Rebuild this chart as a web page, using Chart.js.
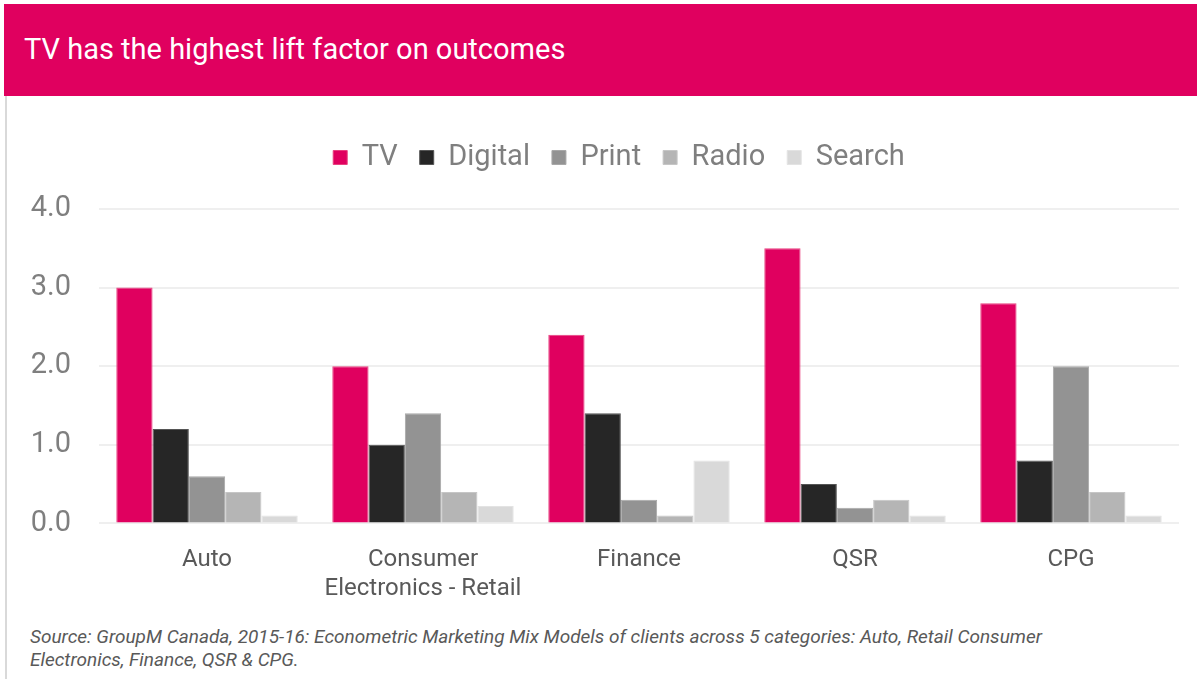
<!DOCTYPE html>
<html>
<head>
<meta charset="UTF-8">
<title>TV lift factor</title>
<script src="https://cdn.jsdelivr.net/npm/chart.js"></script>
<style>
  body { margin: 0; background: #fff; font-family: "Roboto", sans-serif; }
  #header { position: absolute; left: 4px; top: 4px; width: 1193px; height: 92px; background: #E0005F; }
  #header h1 { margin: 0; position: absolute; left: 20px; top: 28px; font-weight: normal; font-size: 29px; color: #fff; }
  #leftline { position: absolute; left: 5px; top: 96px; width: 2px; height: 583px; background: #d9d9d9; }
  #wrap { position: absolute; left: 7px; top: 96px; width: 1190px; height: 521px; }
  #source { position: absolute; left: 30px; top: 625px; font-style: italic; font-size: 19px; color: #595959; line-height: 23px; }
</style>
</head>
<body>
<div id="header"><h1>TV has the highest lift factor on outcomes</h1></div>
<div id="leftline"></div>
<div id="wrap"><canvas id="liftChart"></canvas></div>
<div id="source">Source: GroupM Canada, 2015-16: Econometric Marketing Mix Models of clients across 5 categories: Auto, Retail Consumer<br>Electronics, Finance, QSR &amp; CPG.</div>
<script>
var categories = ['Auto', ['Consumer', 'Electronics - Retail'], 'Finance', 'QSR', 'CPG'];
var tvValues      = [3.0, 2.0, 2.4, 3.5, 2.8];
var digitalValues = [1.2, 1.0, 1.4, 0.5, 0.8];
var printValues   = [0.6, 1.4, 0.3, 0.2, 2.0];
var radioValues   = [0.4, 0.4, 0.1, 0.3, 0.4];
var searchValues  = [0.1, 0.22, 0.8, 0.1, 0.1];

var font = '"Roboto", sans-serif';

function series(label, data, fill, edge) {
    return { label: label, data: data, backgroundColor: fill, borderColor: edge, borderWidth: 1,
             barPercentage: 1.0, categoryPercentage: 0.84 };
}

// extra room under the legend, and nudge it to sit over the plot
var legendTweak = {
    id: 'legendTweak',
    beforeInit: function (chart) {
        var fit = chart.legend.fit;
        chart.legend.fit = function () {
            fit.bind(chart.legend)();
            this.height += 27;
        };
    },
    afterLayout: function (chart) {
        chart.legend.left += 26;
        chart.legend.right += 26;
    }
};

var ctx = document.getElementById('liftChart').getContext('2d');
var liftChart = new Chart(ctx, {
    type: 'bar',
    data: {
        labels: categories,
        datasets: [
            series('TV', tvValues, '#E0005F', '#E8407F'),
            series('Digital', digitalValues, '#262626', '#555555'),
            series('Print', printValues, '#939393', '#A8A8A8'),
            series('Radio', radioValues, '#B5B5B5', '#C6C6C6'),
            series('Search', searchValues, '#D9D9D9', '#E3E3E3')
        ]
    },
    options: {
        responsive: true,
        maintainAspectRatio: false,
        animation: false,
        layout: { padding: { top: 25, right: 18, bottom: 0, left: 0 } },
        plugins: {
            legend: {
                position: 'top',
                labels: {
                    font: { family: font, size: 29 },
                    color: '#7f7f7f',
                    boxWidth: 14,
                    boxHeight: 14,
                    padding: 22
                }
            },
            tooltip: { enabled: false }
        },
        scales: {
            x: {
                grid: { display: false },
                border: { display: false },
                ticks: { font: { family: font, size: 24 }, color: '#595959', padding: 14 }
            },
            y: {
                min: 0,
                max: 4,
                ticks: {
                    stepSize: 1,
                    font: { family: font, size: 29 },
                    color: '#7f7f7f',
                    padding: 28,
                    callback: function (v) { return v.toFixed(1); }
                },
                grid: { color: '#EFEFEF', lineWidth: 2, drawTicks: false },
                border: { display: false },
                afterFit: function (scale) { scale.width = 92; }
            }
        }
    },
    plugins: [legendTweak]
});
</script>
</body>
</html>
